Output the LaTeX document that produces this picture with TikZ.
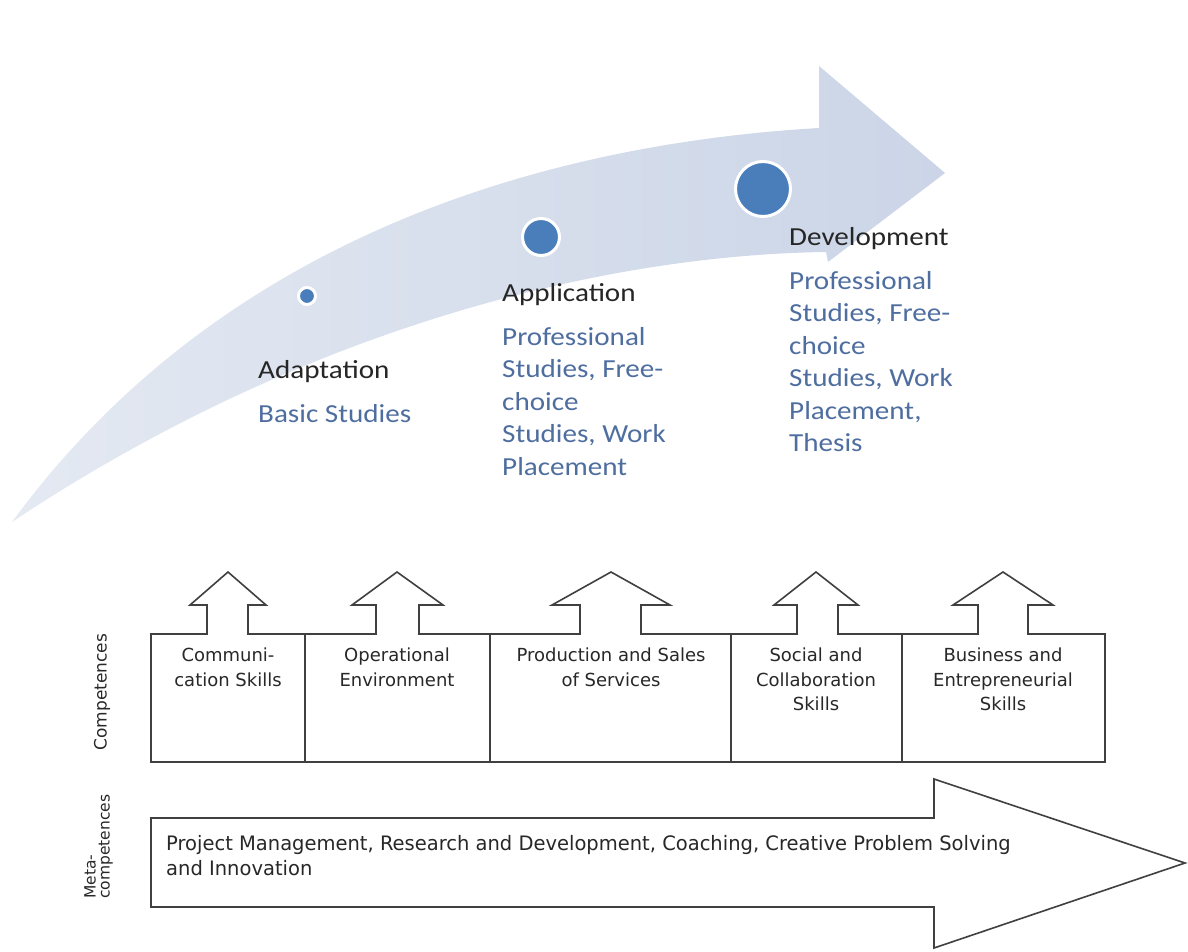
\documentclass[tikz,border=0pt]{standalone}
\usepackage{fontspec}
\newfontfamily\topfont[FakeStretch=1.12]{Carlito}
\newfontfamily\boxfont[FakeStretch=1.0]{DejaVu Sans}
\newfontfamily\metafont[FakeStretch=0.98]{DejaVu Sans}
\definecolor{arrowL}{RGB}{228,233,242}
\definecolor{arrowR}{RGB}{203,213,231}
\definecolor{dotblue}{RGB}{74,126,187}
\definecolor{headtxt}{RGB}{38,38,38}
\definecolor{bluetxt}{RGB}{79,110,160}
\definecolor{linegray}{RGB}{64,64,64}
\definecolor{boxtxt}{RGB}{40,40,40}
\tikzset{
  dot/.style={circle, fill=dotblue, draw=white, line width=3pt, inner sep=0pt},
  headtext/.style={anchor=north west, inner sep=0pt, align=left, text=headtxt, font=\topfont\fontsize{26}{32.5}\selectfont},
  bluetext/.style={anchor=north west, inner sep=0pt, align=left, text=bluetxt, font=\topfont\fontsize{26}{32.5}\selectfont},
  boxlabel/.style={anchor=north, inner sep=0pt, align=center, text=boxtxt, font=\boxfont\fontsize{18}{24.5}\selectfont},
  metalabel/.style={anchor=base west, inner sep=0pt, align=left, text=boxtxt, font=\metafont\fontsize{19.9}{25}\selectfont},
  outline/.style={draw=linegray, line width=1.6pt, line join=miter},
  sidelabel/.style={rotate=90, inner sep=0pt, text=boxtxt},
}
\begin{document}
\begin{tikzpicture}[x=1pt,y=-1pt]
\path[use as bounding box, fill=white] (0,0) rectangle (1188,952);
% big curved arrow
\shade[left color=arrowL, right color=arrowR]
  (12,522) .. controls (215,245) and (530,145) .. (819,128)
  -- (819,66) -- (945,173) -- (828,262) -- (826,252)
  .. controls (600,255) and (300,330) .. (12,522) -- cycle;
% dots
\node[dot, minimum size=17pt] (d1) at (307,296) {};
\node[dot, minimum size=37pt] (d2) at (541,237) {};
\node[dot, minimum size=55pt] (d3) at (763,189) {};
% stage texts
\node[headtext] (h1) at (258,358) {\rule{0pt}{20pt}Adaptation};
\node[bluetext] (b1) at (258,402) {\rule{0pt}{20pt}Basic Studies};
\node[headtext] (h2) at (502,281) {\rule{0pt}{20pt}Application};
\node[bluetext] (b2) at (502,325) {\rule{0pt}{20pt}Professional\\Studies, Free-\\choice\\Studies, Work\\Placement};
\node[headtext] (h3) at (789,225) {\rule{0pt}{20pt}Development};
\node[bluetext] (b3) at (789,269) {\rule{0pt}{20pt}Professional\\Studies, Free-\\choice\\Studies, Work\\Placement,\\Thesis};
% competence boxes with up arrows
\draw[outline] (151,762) -- (151,634)
  -- (207,634) -- (207,605) -- (190,605) -- (228,572) -- (266,605) -- (248,605) -- (248,634)
  -- (376,634) -- (376,605) -- (352,605) -- (397,572) -- (443,605) -- (419,605) -- (419,634)
  -- (580,634) -- (580,605) -- (552,605) -- (611,572) -- (670,605) -- (641,605) -- (641,634)
  -- (797,634) -- (797,605) -- (774,605) -- (816,572) -- (858,605) -- (838,605) -- (838,634)
  -- (978,634) -- (978,605) -- (953,605) -- (1003,572) -- (1053,605) -- (1028,605) -- (1028,634)
  -- (1105,634) -- (1105,762) -- cycle;
\draw[outline] (305,634) -- (305,762);
\draw[outline] (490,634) -- (490,762);
\draw[outline] (731,634) -- (731,762);
\draw[outline] (902,634) -- (902,762);
\node[boxlabel] (c1) at (228,648) {Communi-\\cation Skills};
\node[boxlabel] (c2) at (397,648) {Operational\\Environment};
\node[boxlabel] (c3) at (611,648) {Production and Sales\\of Services};
\node[boxlabel] (c4) at (816,648) {Social and\\Collaboration\\Skills};
\node[boxlabel] (c5) at (1003,648) {Business and\\Entrepreneurial\\Skills};
% meta arrow
\draw[outline] (151,818) -- (934,818) -- (934,779) -- (1185,863) -- (934,948) -- (934,907) -- (151,907) -- cycle;
\node[metalabel] (m1) at (166,850)
  {Project Management, Research and Development, Coaching, Creative Problem Solving};
\node[metalabel] (m2) at (166,875) {and Innovation};
% side labels
\node[sidelabel, font=\boxfont\fontsize{17}{20}\selectfont] (s1) at (102,692) {Competences};
\node[sidelabel, anchor=north west, align=left, font=\boxfont\fontsize{15.5}{14}\selectfont] (s2) at (84,899) {Meta-\\competences};
\end{tikzpicture}
\end{document}
